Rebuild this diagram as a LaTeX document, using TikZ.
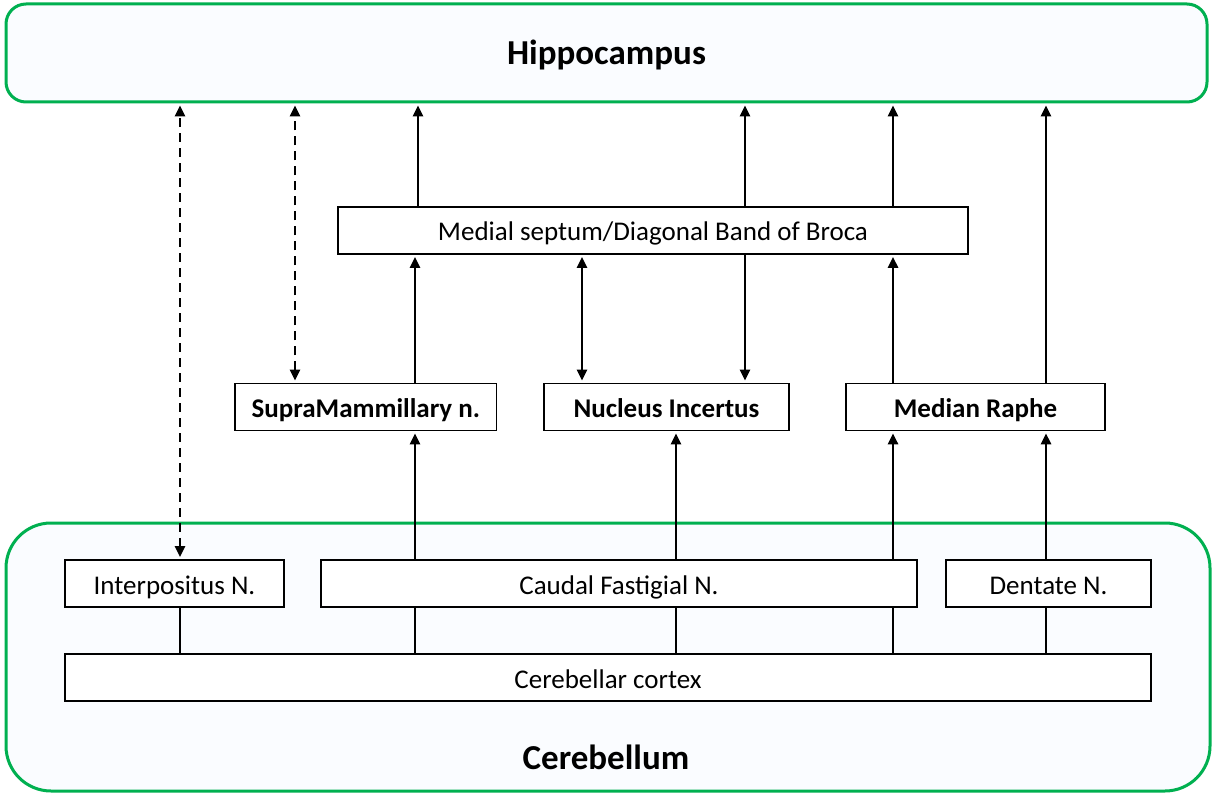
\documentclass[tikz,border=0pt]{standalone}
\usepackage{fontspec}
\setmainfont{Carlito}
\usetikzlibrary{arrows.meta}
\definecolor{grn}{RGB}{0,176,80}
\definecolor{pale}{RGB}{250,252,255}
\begin{document}
\begin{tikzpicture}[x=1pt,y=-1pt,
 region/.style={draw=grn, line width=3pt, fill=pale},
 box/.style={draw=black, line width=1.6pt, fill=white, inner sep=0pt,
   minimum height=47pt, text height=24pt, text depth=3pt,
   font=\fontsize{27}{32}\selectfont},
 bbox/.style={box, font=\fontsize{27}{32}\selectfont\bfseries},
 title/.style={font=\fontsize{35}{42}\selectfont\bfseries, text height=22.5pt, text depth=0pt},
 conn/.style={line width=2.5pt},
 tip/.tip={Triangle[length=11pt,width=10pt]},
 arr/.style={conn, -tip, shorten >=2pt},
 barr/.style={conn, tip-tip, shorten >=2pt, shorten <=2pt},
 darr/.style={barr, dash pattern=on 9pt off 6pt}]

\fill[white] (0,0) rectangle (1213,794);

% regions
\node[region, minimum width=1201pt, minimum height=98pt, rounded corners=20pt, title] (hip) at (606.5,53) {Hippocampus};
\node[region, minimum width=1204pt, minimum height=268pt, rounded corners=45pt] (cer) at (608,657) {};
\node[title] (certitle) at (606,758.5) {Cerebellum};

% boxes
\node[box, minimum width=630pt] (ms) at (653,230.5) {Medial septum/Diagonal Band of Broca};
\node[bbox, minimum width=261.5pt] (sum) at (365.8,407) {SupraMammillary n.};
\node[bbox, minimum width=245pt] (ni) at (666.5,407) {Nucleus Incertus};
\node[bbox, minimum width=259pt] (mr) at (975.5,407) {Median Raphe};
\node[box, minimum width=219pt] (inter) at (174.5,583.5) {Interpositus N.};
\node[box, minimum width=596pt] (caudal) at (619,583.5) {Caudal Fastigial N.};
\node[box, minimum width=205pt] (dent) at (1048.5,583.5) {Dentate N.};
\node[box, minimum width=1086pt] (cortex) at (608,677.5) {Cerebellar cortex};

% columns
\coordinate (c180) at (180,0);
\coordinate (c295) at (295,0);
\coordinate (c415) at (415,0);
\coordinate (c418) at (418,0);
\coordinate (c582) at (582,0);
\coordinate (c676) at (676,0);
\coordinate (c745) at (745,0);
\coordinate (c893) at (893,0);
\coordinate (c1046) at (1046,0);

% connectors
\draw[darr] (inter.north -| c180) -- (hip.south -| c180);
\draw[darr] (sum.north -| c295) -- (hip.south -| c295);
\draw[arr] (ms.north -| c418) -- (hip.south -| c418);
\draw[arr] (ms.north -| c745) -- (hip.south -| c745);
\draw[arr] (ms.north -| c893) -- (hip.south -| c893);
\draw[arr] (sum.north -| c415) -- (ms.south -| c415);
\draw[barr] (ni.north -| c582) -- (ms.south -| c582);
\draw[arr] (ms.south -| c745) -- (ni.north -| c745);
\draw[arr] (mr.north -| c893) -- (ms.south -| c893);
\draw[arr] (mr.north -| c1046) -- (hip.south -| c1046);
\draw[arr] (caudal.north -| c415) -- (sum.south -| c415);
\draw[arr] (caudal.north -| c676) -- (ni.south -| c676);
\draw[arr] (caudal.north -| c893) -- (mr.south -| c893);
\draw[arr] (dent.north -| c1046) -- (mr.south -| c1046);
\draw[conn] (cortex.north -| c180) -- (inter.south -| c180);
\draw[conn] (cortex.north -| c415) -- (caudal.south -| c415);
\draw[conn] (cortex.north -| c676) -- (caudal.south -| c676);
\draw[conn] (cortex.north -| c893) -- (caudal.south -| c893);
\draw[conn] (cortex.north -| c1046) -- (dent.south -| c1046);
\end{tikzpicture}
\end{document}
